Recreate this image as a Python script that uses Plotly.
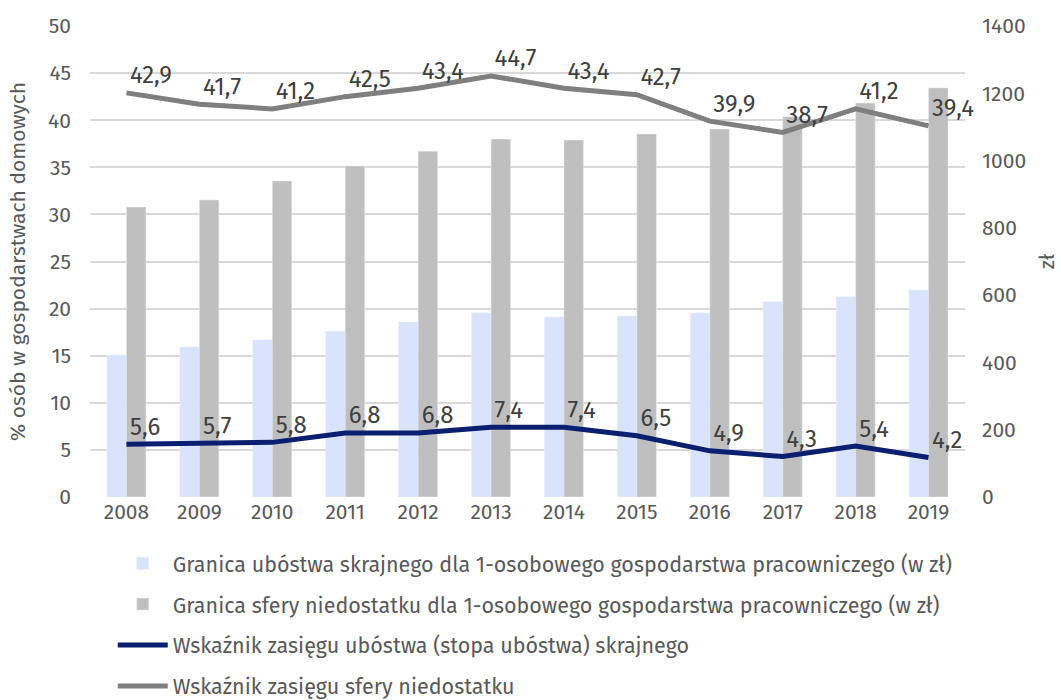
import plotly.graph_objects as go

years = ["2008", "2009", "2010", "2011", "2012", "2013", "2014", "2015", "2016", "2017", "2018", "2019"]
granica_skrajne = [422, 446, 467, 493, 520, 547, 535, 538, 547, 580, 595, 615]
granica_niedostatek = [862, 883, 939, 984, 1028, 1064, 1061, 1079, 1094, 1130, 1171, 1216]
stopa_skrajne = [5.6, 5.7, 5.8, 6.8, 6.8, 7.4, 7.4, 6.5, 4.9, 4.3, 5.4, 4.2]
stopa_niedostatek = [42.9, 41.7, 41.2, 42.5, 43.4, 44.7, 43.4, 42.7, 39.9, 38.7, 41.2, 39.4]

names = [
    "Granica ubóstwa skrajnego dla 1-osobowego gospodarstwa pracowniczego (w zł)",
    "Granica sfery niedostatku dla 1-osobowego gospodarstwa pracowniczego (w zł)",
    "Wskaźnik zasięgu ubóstwa (stopa ubóstwa) skrajnego",
    "Wskaźnik zasięgu sfery niedostatku",
]

FONT = "Fira Sans, Noto Sans, sans-serif"
TXT = "#595959"
LBL = "#404040"
FS = 21

def fmt(v):
    return f"{v:.1f}".replace(".", ",")

fig = go.Figure()
fig.add_trace(go.Bar(x=years, y=granica_skrajne, name=names[0], marker_color="#dae3fc",
                     yaxis="y", legendgroup="a", offsetgroup="a"))
fig.add_trace(go.Bar(x=years, y=granica_niedostatek, name=names[1], marker_color="#bfbfbf",
                     yaxis="y", legendgroup="b", offsetgroup="b"))
fig.add_trace(go.Scatter(x=years, y=stopa_skrajne, name=names[2], mode="lines+markers+text",
                         line=dict(color="#0a1f70", width=5),
                         marker=dict(size=4, color="rgba(0,0,0,0)"),
                         text=[fmt(v) for v in stopa_skrajne],
                         textposition="top right", textfont=dict(size=24, color=LBL, family=FONT),
                         yaxis="y2", legendgroup="c", cliponaxis=False))
fig.add_trace(go.Scatter(x=years, y=stopa_niedostatek, name=names[3], mode="lines+markers+text",
                         line=dict(color="#7f7f7f", width=5),
                         marker=dict(size=4, color="rgba(0,0,0,0)"),
                         text=[fmt(v) for v in stopa_niedostatek],
                         textposition="top right", textfont=dict(size=24, color=LBL, family=FONT),
                         yaxis="y2", legendgroup="d", cliponaxis=False))

fig.update_layout(
    width=1061, height=700,
    paper_bgcolor="white", plot_bgcolor="white",
    font=dict(family=FONT, size=FS, color=TXT),
    margin=dict(l=90, r=96, t=26, b=203, autoexpand=False),
    barmode="group", bargap=0.465, bargroupgap=0,
    xaxis=dict(type="category", range=[-0.5, len(years) - 0.5], autorange=False,
               showgrid=False, ticks="", showline=False,
               tickfont=dict(size=FS, color=TXT)),
    yaxis=dict(side="right", range=[0, 1400], dtick=200, showgrid=False, zeroline=False,
               ticklabelstandoff=16,
               title=dict(text="zł", font=dict(size=FS, color=TXT), standoff=14),
               minor=dict(dtick=140, showgrid=True, gridcolor="#d9d9d9", gridwidth=1.5),
               tickfont=dict(size=FS, color=TXT)),
    yaxis2=dict(side="left", overlaying="y", range=[0, 50], dtick=5, showgrid=False, zeroline=False,
                ticklabelstandoff=18,
                title=dict(text="% osób w gospodarstwach domowych", font=dict(size=FS, color=TXT), standoff=16),
                tickfont=dict(size=FS, color=TXT)),
    legend=dict(orientation="v", x=0.026, xanchor="left", y=-0.097, yanchor="top",
                itemwidth=50, traceorder="grouped", tracegroupgap=10,
                font=dict(size=21.5, color=TXT)),
)

fig.write_html("out.html", config={"displayModeBar": False},
               post_script="document.body.style.margin='0';document.body.style.padding='0';")
